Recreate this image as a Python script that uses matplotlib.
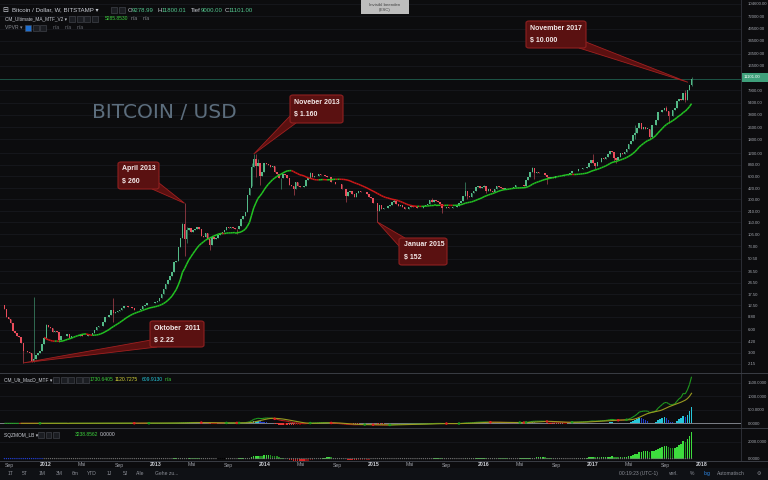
import numpy as np
import pandas as pd
import matplotlib
matplotlib.use("Agg")
import matplotlib.pyplot as plt
from matplotlib.patches import Rectangle, FancyBboxPatch, Polygon
from matplotlib.collections import LineCollection
from matplotlib.ticker import NullLocator
import matplotlib.transforms as mtrans

# ---------------- data (weekly candles, Bitstamp BTC/USD) ----------------
first_week = "2011-08-15"
first_open = 12.6
close_2011 = [11.2, 8.9, 8.2, 7.3, 5.8, 5.4, 5.0, 4.8, 4.0, 3.2, 3.2, 3.1, 3.0, 2.3, 2.5, 2.8,
              3.0, 3.2, 3.9, 4.7]
close_2012 = [6.9, 6.6, 6.4, 5.6, 5.7, 5.6, 4.4, 4.9, 4.9, 4.9, 5.3, 4.7, 4.9,
              4.9, 4.9, 5.0, 5.1, 5.0, 5.0, 5.0, 5.1, 5.2, 5.5, 5.9, 6.5, 6.7,
              6.8, 7.6, 8.7, 8.9, 9.3, 11.0, 9.8, 10.3, 10.4, 11.0, 11.6, 12.3, 12.4,
              12.0, 11.8, 11.6, 10.8, 10.8, 11.0, 11.2, 12.3, 12.6,
              13.4, 13.5, 13.4, 13.4, 13.6]
close_2013 = [14.0, 15.7, 17.5, 20.4, 23.5, 27.0, 29.9, 33.4, 46.0, 47.0, 71.0, 93.0,
              142, 90, 118, 127, 112, 118, 122, 131, 122, 100, 98, 108, 90,
              76, 97, 91, 95, 104, 105, 113, 121, 131, 125, 129, 125, 124, 122,
              135, 168, 180, 206, 340, 415, 800, 1000, 810, 880, 600, 670, 900]
close_2014 = [870, 830, 800, 810, 680, 640, 570, 570, 635, 630, 570, 460, 450,
              410, 500, 450, 435, 435, 445, 530, 575, 650, 590, 595, 595, 635,
              625, 620, 595, 585, 585, 500, 510, 480, 475, 477, 405, 405, 330,
              375, 385, 355, 325, 365, 390, 375, 375, 375, 350, 320, 315, 265]
close_2015 = [270, 210, 253, 226, 228, 234, 244, 254, 276, 282, 262, 247, 254,
              236, 224, 226, 237, 242, 236, 240, 229, 228, 233, 245, 249, 260,
              293, 273, 290, 282, 279, 262, 230, 229, 240, 231, 232, 235, 240,
              247, 266, 284, 326, 385, 330, 325, 360, 390, 435, 440, 420, 430]
close_2016 = [448, 385, 410, 380, 375, 405, 440, 430, 415, 412, 415, 418, 418,
              422, 432, 460, 455, 460, 455, 442, 528, 580, 680, 760, 660, 670,
              650, 665, 660, 625, 590, 570, 580, 575, 608, 608, 605, 600, 612,
              615, 640, 655, 700, 705, 705, 735, 735, 765, 770, 790, 890, 960]
close_2017 = [900, 820, 920, 920, 1020, 1000, 1050, 1180, 1260, 1230, 1030, 960, 1080,
              1190, 1170, 1250, 1350, 1550, 1720, 2050, 2200, 2520, 2950, 2500, 2590, 2500,
              2500, 1930, 2750, 2740, 3240, 4060, 4100, 4340, 4600, 4230, 3680, 3600, 4360,
              4600, 5680, 6000, 5900, 7350, 5850, 8000, 9278.99, 11101.00]
# notable wick extremes {week index: price}
wick_high = {14: 16.0, 20: 7.2, 52: 15.4, 85: 147, 86: 266, 87: 130, 118: 900, 119: 1163,
             120: 1150, 121: 1000, 146: 680, 186: 300, 204: 315, 220: 502, 229: 465,
             252: 780, 281: 1150, 290: 1290, 301: 2790, 304: 2980, 316: 4980,
             323: 6150, 325: 7880, 328: 11800.01}
wick_low = {9: 2.22, 13: 2.25, 26: 4.2, 52: 7.5, 86: 55, 87: 80, 98: 65, 111: 105,
            118: 450, 120: 580, 122: 455, 132: 410, 138: 340, 163: 280, 178: 152,
            209: 198, 221: 305, 230: 360, 253: 550, 259: 480, 282: 750, 291: 950,
            292: 890, 301: 1850, 308: 1830, 317: 2970, 325: 5500, 328: 9000}

price_ticks = [2.15, 3.0, 4.2, 6.0, 8.8, 12.5, 17.5, 24.5, 34.5, 50.5, 73.0, 105.0, 150.0,
               210.0, 300.0, 420.0, 600.0, 840.0, 1200.0, 1800.0, 2600.0, 3800.0, 5400.0,
               7900.0, 16500.0, 23500.0, 34500.0, 49500.0, 72000.0, 104600.0]
last_price = 11101.00
macd_ticks = [0, 500, 1000, 1500]
sqz_ticks = [0, 2000]
month_ticks = [("2011-09-01", "Sep"), ("2012-01-01", "2012"), ("2012-05-01", "Mai"),
               ("2012-09-01", "Sep"), ("2013-01-01", "2013"), ("2013-05-01", "Mai"),
               ("2013-09-01", "Sep"), ("2014-01-01", "2014"), ("2014-05-01", "Mai"),
               ("2014-09-01", "Sep"), ("2015-01-01", "2015"), ("2015-05-01", "Mai"),
               ("2015-09-01", "Sep"), ("2016-01-01", "2016"), ("2016-05-01", "Mai"),
               ("2016-09-01", "Sep"), ("2017-01-01", "2017"), ("2017-05-01", "Mai"),
               ("2017-09-01", "Sep"), ("2018-01-01", "2018")]
ann_title = ["Oktober  2011", "April 2013", "Noveber 2013", "Januar 2015", "November 2017"]
ann_value = ["$ 2.22", "$ 260", "$ 1.160", "$ 152", "$ 10.000"]
ann_date = ["2011-10-17", "2013-04-08", "2013-11-25", "2015-01-12", "2017-11-15"]
ann_price = [2.22, 266, 1163, 152, 10000]

# ---------------- series ----------------
closes = np.array(close_2011 + close_2012 + close_2013 + close_2014 + close_2015 +
                  close_2016 + close_2017, dtype=float)
n = len(closes)
opens = np.r_[first_open, closes[:-1]]
highs = np.maximum(opens, closes)
lows = np.minimum(opens, closes)
for k, v in wick_high.items():
    highs[k] = v
for k, v in wick_low.items():
    lows[k] = v
x = np.arange(n)


def idx(d):
    return (pd.Timestamp(d) - pd.Timestamp(first_week)).days / 7.0


s = pd.Series(closes)
ma20 = s.rolling(20).mean().values
fast = s.ewm(span=12, adjust=False).mean()
slow = s.ewm(span=26, adjust=False).mean()
macd = (fast - slow)
signal = macd.rolling(9).mean()
hist = (macd - signal).values
macd = macd.values
signal = signal.values

hs, ls = pd.Series(highs), pd.Series(lows)
hh = hs.rolling(20).max()
ll = ls.rolling(20).min()
sma = s.rolling(20).mean()
inner = s - ((hh + ll) / 2 + sma) / 2


def linreg_last(a):
    t = np.arange(len(a))
    b, c = np.polyfit(t, a, 1)
    return c + b * (len(a) - 1)


val = inner.rolling(20).apply(linreg_last, raw=True).values
std = s.rolling(20).std(ddof=0)
upBB, loBB = sma + 2 * std, sma - 2 * std
pc = s.shift(1)
tr = pd.concat([hs - ls, (hs - pc).abs(), (ls - pc).abs()], axis=1).max(axis=1)
rma = tr.rolling(20).mean()
upKC, loKC = sma + 1.5 * rma, sma - 1.5 * rma
sqzOn = ((loBB > loKC) & (upBB < upKC)).values
sqzOff = ((loBB < loKC) & (upBB > upKC)).values
noSqz = ~sqzOn & ~sqzOff

# ---------------- figure ----------------
plt.rcParams['font.family'] = ['Liberation Sans', 'DejaVu Sans']
BG = '#0c0c0e'
W, H = 768, 480
fig = plt.figure(figsize=(7.68, 4.8), dpi=100, facecolor=BG)


def fx(v):
    return v / W


def fy(v):
    return 1 - v / H


def pax(x0, y0, x1, y1):
    return [fx(x0), fy(y1), (x1 - x0) / W, (y1 - y0) / H]


XL = (-2.1, 351.6)
ax_p = fig.add_axes(pax(0, 0, 741, 373))
ax_m = fig.add_axes(pax(0, 373, 741, 428))
ax_s = fig.add_axes(pax(0, 428, 741, 461))
AXC = '#a3a6ae'
GRID = '#17191e'
for a in (ax_p, ax_m, ax_s):
    a.set_facecolor(BG)
    for sp in a.spines.values():
        sp.set_visible(False)
    a.set_xlim(*XL)
    a.yaxis.tick_right()
    a.tick_params(axis='x', bottom=False, labelbottom=False)
    a.tick_params(axis='y', right=False, left=False, labelleft=False, labelright=True,
                  labelsize=3.05, labelcolor=AXC, pad=1.6)

# price pane
ax_p.set_yscale('log')
ax_p.set_ylim(1.64, 117900)
ax_p.set_yticks(price_ticks)
ax_p.set_yticklabels([f"{t:.2f}" for t in price_ticks])
ax_p.yaxis.set_minor_locator(NullLocator())
for t in price_ticks:
    ax_p.axhline(t, color=GRID, lw=0.6, zorder=0)

up = closes >= opens
body_c = np.where(up, '#53b987', '#eb4d5c')
wick_c = np.where(up, '#3f8f6c', '#b0434f')
ax_p.vlines(x, lows, highs, colors=wick_c, lw=0.5, zorder=2)
bot = np.minimum(opens, closes)
top = np.maximum(np.maximum(opens, closes), bot * 1.005)
ax_p.bar(x, top - bot, bottom=bot, width=0.72, color=body_c, linewidth=0, zorder=3)

segs, cols = [], []
for i in range(1, n):
    if np.isnan(ma20[i - 1]):
        continue
    segs.append([(i - 1, ma20[i - 1]), (i, ma20[i])])
    cols.append('#22c322' if ma20[i] >= ma20[i - 1] else '#d01818')
ax_p.add_collection(LineCollection(segs, colors=cols, linewidths=1.1, zorder=4))
ax_p.axhline(last_price, color='#1d5446', lw=0.7, zorder=1)

# MACD pane
ax_m.set_ylim(-174, 1863)
ax_m.set_yticks(macd_ticks)
ax_m.set_yticklabels([f"{t:.4f}" for t in macd_ticks])
for t in macd_ticks[1:]:
    ax_m.axhline(t, color=GRID, lw=0.6, zorder=0)
ax_m.axhline(0, color='#7d8088', lw=0.7, zorder=1)
hp = np.r_[np.nan, hist[:-1]]
hcol = []
for h, p in zip(hist, hp):
    if np.isnan(h):
        hcol.append('#000000')
    elif h > 0:
        hcol.append('#26c6da' if (np.isnan(p) or h > p) else '#1e3fd0')
    else:
        hcol.append('#e53935' if (not np.isnan(p) and h < p) else '#800000')
ax_m.bar(x, np.nan_to_num(hist), width=0.72, color=hcol, linewidth=0, zorder=2)
msegs, mcols = [], []
for i in range(1, n):
    if np.isnan(signal[i]):
        mcols_c = '#1f9a1f'
    else:
        mcols_c = '#1f9a1f' if macd[i] >= signal[i] else '#b71c1c'
    msegs.append([(i - 1, macd[i - 1]), (i, macd[i])])
    mcols.append(mcols_c)
ax_m.add_collection(LineCollection(msegs, colors=mcols, linewidths=0.8, zorder=3))
ax_m.plot(x, signal, color='#9a9a20', lw=0.8, zorder=3)
d = macd - signal
cx = [i for i in range(1, n) if not np.isnan(d[i - 1]) and np.sign(d[i]) != np.sign(d[i - 1])]
ax_m.scatter(cx, macd[cx], s=3.5, c=['#1f9a1f' if d[i] >= 0 else '#e02020' for i in cx],
             zorder=4, linewidths=0)

# SQZMOM pane
ax_s.set_ylim(-290, 3677)
ax_s.set_yticks(sqz_ticks)
ax_s.set_yticklabels([f"{t:.4f}" for t in sqz_ticks])
ax_s.axhline(2000, color=GRID, lw=0.6, zorder=0)
vp = np.r_[np.nan, val[:-1]]
scol = []
for v, p in zip(val, vp):
    p = 0 if np.isnan(p) else p
    if np.isnan(v):
        scol.append('#000000')
    elif v > 0:
        scol.append('#3ddc3d' if v > p else '#1f8c1f')
    else:
        scol.append('#e02020' if v < p else '#801010')
ax_s.bar(x, np.nan_to_num(val), width=0.72, color=scol, linewidth=0, zorder=2)
dcol = np.where(noSqz, '#2340d8', np.where(sqzOn, '#000000', '#707070'))
ax_s.scatter(x, np.zeros(n), s=0.9, c=dcol, linewidths=0, zorder=3)


# ---------------- frame lines ----------------
def fline(x0, y0, x1, y1, c='#2c2f36', lw=0.7):
    fig.add_artist(plt.Line2D([fx(x0), fx(x1)], [fy(y0), fy(y1)], color=c, lw=lw))


def frect(x0, y0, x1, y1, fc, ec='none', lw=0.5, z=5):
    r = Rectangle((fx(x0), fy(y1)), (x1 - x0) / W, (y1 - y0) / H, transform=fig.transFigure,
                  facecolor=fc, edgecolor=ec, lw=lw, zorder=z)
    fig.add_artist(r)


def ftext(x0, y0, t, c='#c9ccd4', fs=4.4, **kw):
    fig.text(fx(x0), fy(y0), t, color=c, fontsize=fs, va='center', zorder=9, **kw)


fline(741, 0, 741, 461)
fline(0, 373, 768, 373, c='#3a3d44')
fline(0, 428, 768, 428, c='#3a3d44')
fline(0, 461, 768, 461, c='#3a3d44')
frect(0, 468, 768, 480, '#0f1115')
fline(0, 468, 768, 468, c='#23262c')

# price label
frect(742, 73, 768, 81.5, '#3fa07b')
ftext(744, 77.3, f"{last_price:.2f}", c='white', fs=3.05)

# time axis labels
tr_x = mtrans.blended_transform_factory(ax_s.transData, fig.transFigure)
for dte, lab in month_ticks:
    yr = lab.isdigit()
    fig.text(idx(dte), fy(465), lab, transform=tr_x, ha='center', va='center', fontsize=3.7,
             color='#d0d3da' if yr else '#9a9da5', fontweight='bold' if yr else 'normal')

# toolbar
for lab, xc in [("1T", 10), ("5T", 25), ("1M", 42), ("3M", 59), ("6m", 75), ("YTD", 92),
                ("1J", 109), ("5J", 125), ("Alle", 140), ("Gehe zu...", 167)]:
    ftext(xc, 473.5, lab, c='#8a8d95', fs=3.6, ha='center')
for xs in [17, 34, 50, 67, 83, 101, 116, 132, 148]:
    fline(xs, 470.5, xs, 476.5, c='#2a2d33', lw=0.5)
for lab, xc, c in [("00:19:23 (UTC-1)", 638, '#8a8d95'), ("verl.", 674, '#8a8d95'),
                   ("%", 692, '#8a8d95'), ("log", 707, '#2f8ef0'),
                   ("Automatisch", 731, '#8a8d95'), ("\u2699", 759, '#8a8d95')]:
    ftext(xc, 473.5, lab, c=c, fs=3.6, ha='center')
for xs in [660, 686, 699, 716, 748]:
    fline(xs, 470.5, xs, 476.5, c='#2a2d33', lw=0.5)


# header texts
def icons(x0, y0, k, hi=None):
    for j in range(k):
        fc = '#1e6fd0' if hi == j else '#1b1d22'
        frect(x0 + j * 7.5, y0 - 3, x0 + j * 7.5 + 6, y0 + 3, fc, ec='#4a4d55', lw=0.4)


ftext(2, 10, "\u229f", fs=5, family='DejaVu Sans')
ftext(12, 10, "Bitcoin / Dollar, W, BITSTAMP \u25be", fs=4.4)
icons(111, 10, 2)
for lab, xl, c in [("O", 128, '#c9ccd4'), ("9278.99", 131.5, '#53c78f'), ("H", 158, '#c9ccd4'),
                   ("11800.01", 161.5, '#53c78f'), ("Tief", 190.5, '#c9ccd4'),
                   ("9000.00", 200.5, '#53c78f'), ("C", 225, '#c9ccd4'),
                   ("11101.00", 228.5, '#53c78f')]:
    ftext(xl, 10, lab, c=c, fs=4.3)
ftext(5, 19, "CM_Ultimate_MA_MTF_V2 \u25be", fs=3.4)
icons(69, 19, 4)
ftext(105, 19, "5285.8530", c='#3ccf3c', fs=3.6)
ftext(131, 19, "n/a", c='#8a8d95', fs=3.6)
ftext(143, 19, "n/a", c='#8a8d95', fs=3.6)
ftext(5, 27.5, "VPVR \u25be", c='#8a8d95', fs=3.6)
icons(25, 27.5, 3, hi=0)
for xl in [53, 65, 77]:
    ftext(xl, 27.5, "n/a", c='#6a6d75', fs=3.6)

ftext(4, 379.5, "CM_Ult_MacD_MTF \u25be", fs=3.5)
icons(53, 379.5, 5)
ftext(90, 379.5, "1730.6405", c='#3ccf3c', fs=3.6)
ftext(115, 379.5, "1120.7275", c='#d4d43a', fs=3.6)
ftext(142, 379.5, "609.9130", c='#26c6da', fs=3.6)
ftext(165, 379.5, "n/a", c='#3ccf3c', fs=3.6)
ftext(4, 435, "SQZMOM_LB \u25be", fs=3.5)
icons(38, 435, 3)
ftext(75, 435, "3238.8562", c='#3ccf3c', fs=3.6)
ftext(100, 435, "0.0000", c='#c9ccd4', fs=3.6)

# tooltip
frect(361, 0, 409, 14, '#bdbdbd')
ftext(385, 4.5, "Invisibl beenden", c='#444444', fs=3.2, ha='center')
ftext(385, 10.5, "(ESC)", c='#444444', fs=3.2, ha='center')

# big title
fig.text(fx(92), fy(113), "BITCOIN / USD", color='#5c6d7d', fontsize=14.5, va='center',
         family='DejaVu Sans')

# annotations
boxes = [(150, 321, 204, 347), (118, 162, 159, 189), (290, 95, 343, 123),
         (399, 238, 447, 265), (526, 21, 586, 48)]
bases = [((151, 340), (157, 347)), ((152, 189), (159, 183)), ((290, 116), (296, 123)),
         ((399, 246), (405, 238)), ((579, 48), (586, 42))]
inv = fig.transFigure.inverted()
for k in range(5):
    tip = ax_p.transData.transform((idx(ann_date[k]), ann_price[k]))
    tipf = inv.transform(tip)
    (bx1, by1), (bx2, by2) = bases[k]
    poly = Polygon([tipf, (fx(bx1), fy(by1)), (fx(bx2), fy(by2))], closed=True,
                   transform=fig.transFigure, facecolor='#5a1010', edgecolor='#a02020',
                   lw=0.6, zorder=6)
    fig.add_artist(poly)
    x0, y0, x1, y1 = boxes[k]
    bb = FancyBboxPatch((fx(x0), fy(y1)), (x1 - x0) / W, (y1 - y0) / H,
                        boxstyle='round,pad=0,rounding_size=0.004', transform=fig.transFigure,
                        facecolor='#5a1111', edgecolor='#8f2020', lw=0.8, zorder=7)
    fig.add_artist(bb)
    fig.text(fx(x0 + 4.5), fy(y0 + 7), ann_title[k], color='#f2e8e8', fontsize=5,
             fontweight='bold', va='center', zorder=8)
    fig.text(fx(x0 + 4.5), fy(y0 + 19.5), ann_value[k], color='#f2e8e8', fontsize=5,
             fontweight='bold', va='center', zorder=8)

fig.savefig("out.png", dpi=100, facecolor=BG)
